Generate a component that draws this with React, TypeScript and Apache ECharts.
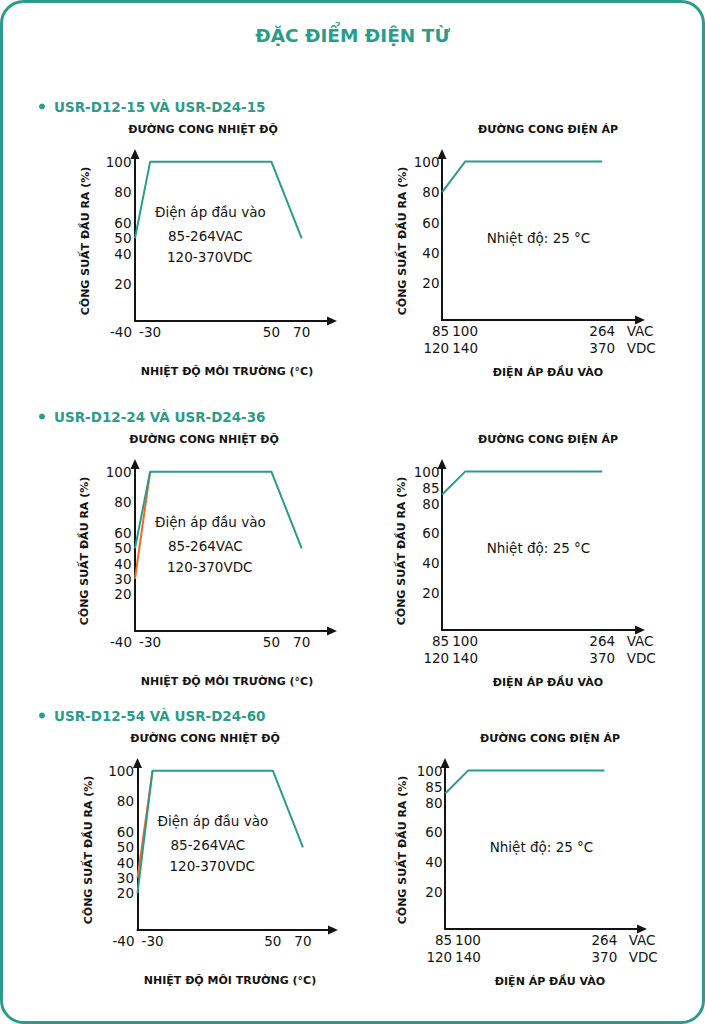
import React, { useEffect, useRef } from 'react';
import * as echarts from 'echarts';

// ---- text ----
const pageTitle = 'ĐẶC ĐIỂM ĐIỆN TỪ';
const sectionTitles = ['USR-D12-15 VÀ USR-D24-15', 'USR-D12-24 VÀ USR-D24-36', 'USR-D12-54 VÀ USR-D24-60'];
const tempChartTitle = 'ĐƯỜNG CONG NHIỆT ĐỘ';
const voltChartTitle = 'ĐƯỜNG CONG ĐIỆN ÁP';
const powerAxisTitle = 'CÔNG SUẤT ĐẦU RA (%)';
const tempAxisTitle = 'NHIỆT ĐỘ MÔI TRƯỜNG (°C)';
const voltAxisTitle = 'ĐIỆN ÁP ĐẦU VÀO';
const inputNote = ['Điện áp đầu vào', '85-264VAC', '120-370VDC'];
const tempNote = 'Nhiệt độ: 25 °C';

// ---- ticks ----
const tempTicks = [-40, -30, 50, 70];
const tempPowerTicks = [
  [20, 40, 50, 60, 80, 100],
  [20, 30, 40, 50, 60, 80, 100],
  [20, 30, 40, 50, 60, 80, 100],
];
const voltPowerTicks = [
  [20, 40, 60, 80, 100],
  [20, 40, 60, 80, 85, 100],
  [20, 40, 60, 80, 85, 100],
];
const vacTicks = [85, 100, 264];
const vdcTicks = [120, 140, 370];
const unitLabels = ['VAC', 'VDC'];

// ---- curves: [temperature °C, output %] and [input VAC, output %] ----
const tempCurveMain = [
  [[-40, 50], [-30, 100], [50, 100], [70, 50]],
  [[-40, 50], [-30, 100], [50, 100], [70, 50]],
  [[-40, 20], [-30, 100], [50, 100], [70, 50]],
];
const tempCurveLow = [
  null,
  [[-40, 30], [-30, 100]],
  [[-40, 30], [-30, 100]],
];
const voltCurve = [
  [[85, 80], [100, 100], [264, 100]],
  [[85, 85], [100, 100], [264, 100]],
  [[85, 85], [100, 100], [264, 100]],
];

// ---- look ----
const TEAL = '#2a9c8c';
const ORANGE = '#f26a21';
const INK = '#141414';
const FONT = 'DejaVu Sans';
const TICK_SIZE = 13.5;
const ARROW = 10;

// per-row placement: arrow tips and axis origins
const rowsLayout = [
  { tip: 149, leftX: 135, leftBase: 321, leftTip: 337, rightX: 442, rightBase: 320, rightTip: 645 },
  { tip: 459, leftX: 135, leftBase: 631, leftTip: 337, rightX: 442, rightBase: 630, rightTip: 645 },
  { tip: 758, leftX: 137.5, leftBase: 930, leftTip: 338, rightX: 445, rightBase: 929, rightTip: 647 },
];

const POWER_MIN = -4;
const POWER_MAX = 105;
const TEMP_MIN = -40;
const TEMP_MAX = 90;
const VOLT_MIN = 84.9;
const VOLT_MAX = 345;
const UNIT_POS = 343;

const axisLineStyle = {
  show: true,
  onZero: false,
  symbol: ['none', 'triangle'],
  symbolSize: [9, ARROW],
  lineStyle: { color: INK, width: 2 },
};

const tickText = { fontFamily: FONT, fontSize: TICK_SIZE, color: INK };

function buildOption() {
  const grid: any[] = [];
  const xAxis: any[] = [];
  const yAxis: any[] = [];
  const series: any[] = [];
  const graphic: any[] = [
    {
      type: 'rect',
      shape: { x: 1.5, y: 1.5, width: 702, height: 1021, r: 22 },
      style: { fill: '#ffffff', stroke: TEAL, lineWidth: 3 },
      z: -10,
    },
    {
      type: 'text',
      x: 352.5,
      y: 35,
      style: {
        text: pageTitle, fill: TEAL, fontFamily: FONT, fontWeight: 'bold', fontSize: 18.5,
        align: 'center', verticalAlign: 'middle',
      },
    },
  ];

  rowsLayout.forEach((r, i) => {
    const top = r.tip + ARROW / 2;

    // section heading
    graphic.push(
      { type: 'circle', shape: { cx: 42, cy: r.tip - 42.5, r: 3 }, style: { fill: TEAL } },
      {
        type: 'text', x: 54, y: r.tip - 42.5,
        style: {
          text: sectionTitles[i], fill: TEAL, fontFamily: FONT, fontWeight: 'bold', fontSize: 13.5,
          align: 'left', verticalAlign: 'middle',
        },
      },
    );

    const boldSmall = { fill: INK, fontFamily: FONT, fontWeight: 'bold', fontSize: 11, align: 'center', verticalAlign: 'middle' };

    // ---------- temperature derating ----------
    const lgi = grid.length;
    grid.push({ left: r.leftX, top, width: r.leftTip - ARROW / 2 - r.leftX, height: r.leftBase - top });
    xAxis.push({
      type: 'value', gridIndex: lgi, min: TEMP_MIN, max: TEMP_MAX,
      axisLine: axisLineStyle, axisTick: { show: false }, splitLine: { show: false },
      axisLabel: {
        ...tickText, margin: 2, lineHeight: 17, showMinLabel: true, showMaxLabel: true,
        alignMinLabel: 'right',
        customValues: tempTicks,
        formatter: (v: number) => (v === tempTicks[0] ? `{lead|${v}}` : `${v}`),
        rich: { lead: { ...tickText, lineHeight: 17, padding: [0, 3, 0, 0] } },
      },
    });
    yAxis.push({
      type: 'value', gridIndex: lgi, min: POWER_MIN, max: POWER_MAX,
      axisLine: axisLineStyle, axisTick: { show: false }, splitLine: { show: false },
      axisLabel: { ...tickText, margin: 3.5, customValues: tempPowerTicks[i] },
    });
    if (tempCurveLow[i]) {
      series.push({
        type: 'line', xAxisIndex: lgi, yAxisIndex: lgi, data: tempCurveLow[i], symbol: 'none',
        clip: false, silent: true, lineStyle: { color: ORANGE, width: 2 },
      });
    }
    series.push({
      type: 'line', xAxisIndex: lgi, yAxisIndex: lgi, data: tempCurveMain[i], symbol: 'none',
      clip: false, silent: true, lineStyle: { color: TEAL, width: 2 },
    });

    const lc = [[203, 204, 205][i], [227, 227, 230][i], [85, 84.5, 88][i]];
    graphic.push(
      { type: 'text', x: lc[0], y: r.tip - 20, style: { ...boldSmall, text: tempChartTitle } },
      { type: 'text', x: lc[1], y: r.tip + 222, style: { ...boldSmall, text: tempAxisTitle } },
      { type: 'text', x: lc[2], y: r.tip + 92, rotation: Math.PI / 2, style: { ...boldSmall, text: powerAxisTitle } },
    );
    const noteX = [20, 33, 32];
    const noteY = [63, 87, 108];
    inputNote.forEach((t, k) => {
      graphic.push({
        type: 'text', x: r.leftX + noteX[k], y: r.tip + noteY[k],
        style: { text: t, fill: INK, fontFamily: FONT, fontSize: 13.5, align: 'left', verticalAlign: 'middle' },
      });
    });

    // ---------- input voltage derating ----------
    const rgi = grid.length;
    grid.push({ left: r.rightX, top, width: r.rightTip - ARROW / 2 - r.rightX, height: r.rightBase - top });
    xAxis.push({
      type: 'log', logBase: 10, gridIndex: rgi, min: VOLT_MIN, max: VOLT_MAX,
      axisLine: axisLineStyle, axisTick: { show: false }, splitLine: { show: false }, minorTick: { show: false },
      axisLabel: {
        ...tickText, margin: 2.5, lineHeight: 17, showMinLabel: true, showMaxLabel: true,
        customValues: [...vacTicks, UNIT_POS],
        formatter: (v: number) => {
          const k = vacTicks.findIndex((t) => Math.abs(t - v) < 0.5);
          if (k === 0) return `{first|${vacTicks[0]}}\n{first|${vdcTicks[0]}}`;
          if (k > 0) return `${vacTicks[k]}\n${vdcTicks[k]}`;
          return `{unit|${unitLabels[0]}}\n{unit|${unitLabels[1]}}`;
        },
        rich: {
          // narrow box, right-aligned: the two-line label sits just left of the 100 tick
          first: { ...tickText, lineHeight: 17, align: 'right', width: 14 },
          unit: { ...tickText, lineHeight: 17, align: 'left', padding: [0, 0, 0, 4] },
        },
      },
    });
    const hasKnee = voltPowerTicks[i].includes(85);
    yAxis.push({
      type: 'value', gridIndex: rgi, min: POWER_MIN, max: POWER_MAX,
      axisLine: axisLineStyle, axisTick: { show: false }, splitLine: { show: false },
      axisLabel: {
        ...tickText, margin: 2.5, customValues: voltPowerTicks[i],
        formatter: (v: number) => {
          if (v === 85) return `{raise|${v}}`;
          if (v === 80 && hasKnee) return `{lower|${v}}`;
          return `${v}`;
        },
        rich: {
          raise: { ...tickText, padding: [0, 0, 13, 0] },
          lower: { ...tickText, padding: [3, 0, 0, 0] },
        },
      },
    });
    series.push({
      type: 'line', xAxisIndex: rgi, yAxisIndex: rgi, data: voltCurve[i], symbol: 'none',
      clip: false, silent: true, lineStyle: { color: TEAL, width: 2 },
    });

    const rc = [[548, 548, 550][i], [548, 548, 550][i], [402, 401, 402][i]];
    graphic.push(
      { type: 'text', x: rc[0], y: r.tip - 20, style: { ...boldSmall, text: voltChartTitle } },
      { type: 'text', x: rc[1], y: r.tip + 223, style: { ...boldSmall, text: voltAxisTitle } },
      { type: 'text', x: rc[2], y: r.tip + 92, rotation: Math.PI / 2, style: { ...boldSmall, text: powerAxisTitle } },
      {
        type: 'text', x: r.rightX + 96.5, y: r.tip + 88.5,
        style: { text: tempNote, fill: INK, fontFamily: FONT, fontSize: 13.5, align: 'center', verticalAlign: 'middle' },
      },
    );
  });

  return {
    animation: false,
    backgroundColor: '#ffffff',
    textStyle: { fontFamily: FONT },
    grid,
    xAxis,
    yAxis,
    series,
    graphic,
  };
}

export default function App() {
  const ref = useRef<HTMLDivElement>(null);

  useEffect(() => {
    if (!ref.current) return;
    const chart = echarts.init(ref.current, undefined, { renderer: 'svg', width: 705, height: 1024 });
    chart.setOption(buildOption() as any);
    return () => chart.dispose();
  }, []);

  return (
    <div
      ref={ref}
      style={{ position: 'absolute', left: 0, top: 0, width: 705, height: 1024, background: '#ffffff' }}
    />
  );
}
